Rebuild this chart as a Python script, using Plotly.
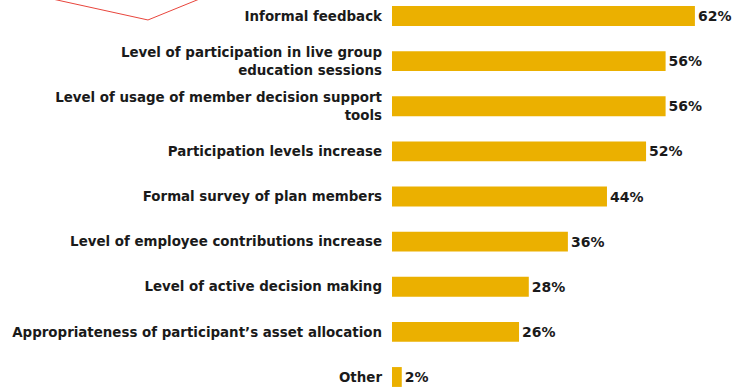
import plotly.graph_objects as go

categories = [
    "Informal feedback",
    "Level of participation in live group<br>education sessions",
    "Level of usage of member decision support<br>tools",
    "Participation levels increase",
    "Formal survey of plan members",
    "Level of employee contributions increase",
    "Level of active decision making",
    "Appropriateness of participant\u2019s asset allocation",
    "Other",
]
values = [62, 56, 56, 52, 44, 36, 28, 26, 2]
value_labels = [f"{v}%" for v in values]

BAR_COLOR = "#EBB000"
TEXT_COLOR = "#1a1a1a"
FONT = "DejaVu Sans, Arial, sans-serif"

fig = go.Figure(
    go.Bar(
        x=values,
        y=categories,
        orientation="h",
        marker=dict(color=BAR_COLOR, line=dict(width=0)),
        width=0.44,
        text=value_labels,
        textposition="outside",
        textfont=dict(family=FONT, size=14, color=TEXT_COLOR, weight="bold"),
        cliponaxis=False,
        hoverinfo="skip",
    )
)

fig.update_layout(
    width=734,
    height=388,
    margin=dict(l=392, r=0, t=0, b=0, autoexpand=False),
    paper_bgcolor="white",
    plot_bgcolor="white",
    showlegend=False,
    font=dict(family=FONT, size=14, color=TEXT_COLOR),
    xaxis=dict(
        range=[0, 70],
        visible=False,
        showgrid=False,
        zeroline=False,
        automargin=False,
    ),
    yaxis=dict(
        categoryorder="array",
        categoryarray=categories,
        range=[8.244, -0.355],
        showgrid=False,
        zeroline=False,
        showline=False,
        ticks="",
        automargin=False,
        ticklabelstandoff=9,
        tickfont=dict(family=FONT, size=13.4, color=TEXT_COLOR, weight="bold"),
    ),
    uniformtext=dict(minsize=8, mode="show"),
)

# Red callout outline at the top-left
fig.add_shape(
    type="path",
    xref="paper",
    yref="paper",
    path="M -1.046 1.0129 L -0.7135 0.9485 L -0.5343 1.0129",
    line=dict(color="#E8453C", width=1),
    layer="above",
)

fig.write_html("out.html")
